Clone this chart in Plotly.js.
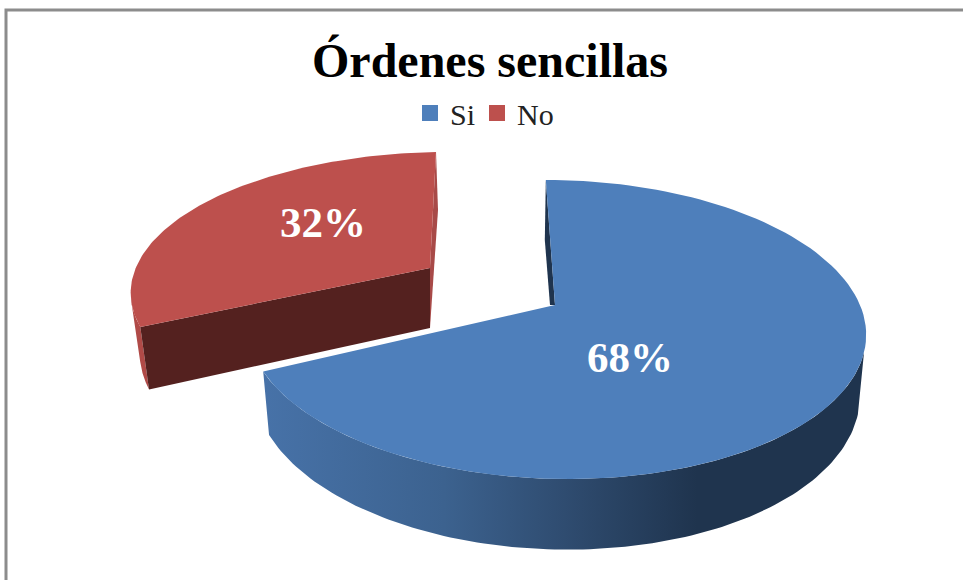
<!DOCTYPE html>
<html>
<head>
<meta charset="utf-8">
<script src="https://cdn.plot.ly/plotly-3.0.1.min.js"></script>
<style>html,body{margin:0;padding:0;background:#fff;}#chart{width:963px;height:580px;}</style>
</head>
<body>
<div id="chart"></div>
<script>
const categories = ['Si', 'No'];
const percentages = [68, 32];
const chartTitle = 'Órdenes sencillas';

const topColors = ['#4e7fbb', '#bd504d'];
const darkColors = ['#1f344e', '#54211f'];

// perspective model of each tilted disc: value angle -> pixel-like axis position
const views = [
  {cx: 555, cy: 305, A: 305, B: 145.5, s: -10.7, k: 0.164, q: 0, H: 59, shrink: 0.98},
  {cx: 430, cy: 268, A: 309, B: 135, s: 7, k: 0.164, q: 0.05, H: 61, shrink: 0.97}
];
function project(v, frac, bottom) {
  const t = frac * 2 * Math.PI, sn = Math.sin(t), cs = Math.cos(t);
  const w = 1 + v.k * cs - v.q * sn;
  const x = (v.A * sn + v.s * cs) / w;
  const y = -v.B * cs / w;
  return bottom ? [v.cx + x * v.shrink, v.cy + y + v.H / w] : [v.cx + x, v.cy + y];
}
function arc(v, f0, f1, bottom) {
  const out = [], n = 120;
  for (let i = 0; i <= n; i++) out.push(project(v, f0 + (f1 - f0) * i / n, bottom));
  return out;
}
function poly(pts, color, extra) {
  return Object.assign({
    x: pts.map(p => p[0]), y: pts.map(p => p[1]),
    mode: 'lines', fill: 'toself', fillcolor: color,
    line: {width: 0, color: color}, showlegend: false, hoverinfo: 'skip', type: 'scatter'
  }, extra || {});
}

const total = percentages[0] + percentages[1];
const split = percentages[0] / total;
const [vBlue, vRed] = views;
const redApex = [vRed.cx, vRed.cy];
const blueApex = [vBlue.cx, vBlue.cy];
const redEnd = project(vRed, 1, false);
const redStartTop = project(vRed, split, false);
const redStartBot = project(vRed, split, true);

const traces = [
  // red outer wall, left
  poly([...arc(vRed, split, split + 0.03, false), ...arc(vRed, split, split + 0.03, true).reverse()], '#b04a47'),
  // red outer wall, right stripe
  poly([redEnd, redApex, [redApex[0], redApex[1] + 60], [redEnd[0] + 2, redEnd[1] + 58]], '#a84a48'),
  // red cut face
  poly([redApex, redStartTop, redStartBot, [redApex[0], redApex[1] + 60]], darkColors[1]),
  // red top
  poly([redApex, ...arc(vRed, split, 1, false)], topColors[1]),
  // blue outer wall
  poly([...arc(vBlue, 0.30, split, false), ...arc(vBlue, 0.30, split, true).reverse()], darkColors[0], {
    fillgradient: {type: 'horizontal', start: 263, stop: 866,
      colorscale: [[0, '#4772a8'], [0.3, '#3c628f'], [0.5, '#2f4c70'], [0.72, '#1f344e'], [1, '#1f344e']]}
  }),
  // blue inner cut sliver
  poly([project(vBlue, 0, false), [project(vBlue, 0, false)[0] - 1, project(vBlue, 0, false)[1] + 60],
        [blueApex[0] - 5, blueApex[1]], blueApex], darkColors[0]),
  // blue top
  poly([blueApex, ...arc(vBlue, 0, split, false)], topColors[0]),
  // legend entries
  ...categories.map((c, i) => ({
    x: [null], y: [null], type: 'scatter', mode: 'markers', name: c,
    legend: i === 0 ? 'legend' : 'legend2',
    marker: {symbol: 'square', size: 16, color: topColors[i]}, hoverinfo: 'skip'
  }))
];

const legendBase = {
  orientation: 'h', xanchor: 'left', y: 1 - 113 / 580, yanchor: 'middle',
  font: {family: '"Liberation Serif", serif', size: 30, color: '#222222'},
  itemwidth: 30, bgcolor: 'rgba(0,0,0,0)'
};
const labelPos = [[630, 357], [323, 222]];
const layout = {
  width: 963, height: 580,
  margin: {l: 0, r: 0, t: 0, b: 0},
  paper_bgcolor: '#ffffff', plot_bgcolor: '#ffffff',
  xaxis: {range: [0, 963], visible: false, fixedrange: true},
  yaxis: {range: [580, 0], visible: false, fixedrange: true},
  title: {text: '<b>' + chartTitle + '</b>', x: 490 / 963, xanchor: 'center', y: 1 - 60 / 580, yanchor: 'middle',
    font: {family: '"Liberation Serif", serif', size: 48, color: '#000000'}},
  legend: Object.assign({x: 410 / 963}, legendBase),
  legend2: Object.assign({x: 477 / 963}, legendBase),
  shapes: [{type: 'rect', xref: 'x', yref: 'y', x0: 6, y0: 10, x1: 1000, y1: 620,
    line: {color: '#8c8c8c', width: 3}, layer: 'below'}],
  annotations: percentages.map((p, i) => ({
    x: labelPos[i][0], y: labelPos[i][1], xref: 'x', yref: 'y', showarrow: false,
    text: '<b>' + p + '%</b>', xanchor: 'center', yanchor: 'middle',
    font: {family: '"Liberation Serif", serif', size: 43, color: '#ffffff'}
  }))
};
Plotly.newPlot('chart', traces, layout, {displayModeBar: false, staticPlot: true});
</script>
</body>
</html>
